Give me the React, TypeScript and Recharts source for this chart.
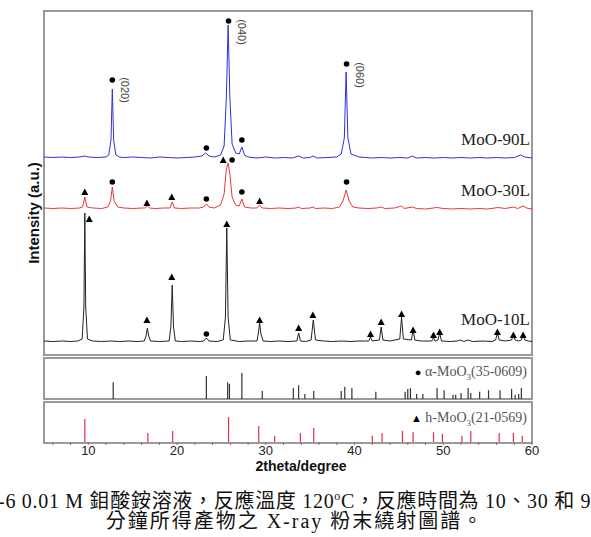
import React from "react";
import { ComposedChart, Line, Scatter, XAxis, YAxis } from "recharts";

// 2theta range and tick positions
const X_DOMAIN: [number, number] = [5, 60];
const AXIS_TICKS = [6, 8, 10, 12, 14, 16, 18, 20, 22, 24, 26, 28, 30, 32, 34, 36, 38, 40, 42, 44, 46, 48, 50, 52, 54, 56, 58, 60];

// traces: [2theta, intensity above own baseline]
const mo90L: [number, number][] = [
  [5, 1], [6, 0.5], [7, 1], [8, 0.5], [9, 1], [9.6, 2], [10, 1], [11, 0.5], [12, 1], [12.3, 3], [12.55, 18], [12.7, 69], [12.85, 18], [13.1, 3],
  [13.5, 1], [14, 0.5], [15, 1], [16, 0.5], [17, 0], [18, 1], [19, 0.5], [20, 0], [21, 0.5], [22, 1], [22.8, 2], [23.2, 5], [23.6, 2], [24.2, 1],
  [24.9, 3], [25.3, 12], [25.55, 60], [25.75, 133], [25.95, 60], [26.2, 14], [26.6, 5], [27.0, 4], [27.3, 11], [27.6, 3], [28, 1], [29, 0], [30, 1],
  [31, 0], [32, 0.5], [33, 0], [33.7, 2], [34.2, 0], [35, 0.5], [35.3, 2], [35.8, 0], [37, 0.5], [38, 1], [38.5, 4], [38.85, 20], [39.05, 86],
  [39.25, 20], [39.6, 4], [40.5, 1], [42, 0], [43, 0.5], [44, 0], [45, 0.5], [46, 0], [46.5, 2], [47, 0], [48, 0.5], [49, 0], [50, 0.5], [51, 0],
  [52, 0.5], [53, 0], [54, 0.5], [55, 0], [56, 0.5], [57, 0], [58, 0.5], [58.7, 3], [59.2, 1], [60, 0],
];

const mo30L: [number, number][] = [
  [5, 1], [6, 0.5], [7, 1], [8, 0.5], [9, 1], [9.35, 2], [9.6, 12], [9.85, 2], [10.5, 1], [11.5, 0.5], [12.2, 2], [12.5, 8], [12.7, 22], [12.9, 8],
  [13.3, 2], [14, 1], [15, 0.5], [16, 1], [16.4, 1], [16.65, 3], [16.9, 1], [17.5, 0.5], [18.5, 1], [19.2, 1], [19.45, 7], [19.7, 1], [20.5, 0.5],
  [21.5, 1], [22.5, 1], [23, 2], [23.3, 5], [23.6, 2], [24.2, 1], [24.9, 4], [25.3, 15], [25.55, 40], [25.75, 46], [25.95, 35], [26.2, 12],
  [26.6, 4], [27.0, 3], [27.3, 10], [27.6, 2], [28.3, 1], [29.0, 1], [29.3, 4], [29.6, 1], [30.5, 0.5], [31.5, 1], [32.5, 0.5], [33.4, 1],
  [33.7, 2], [34, 0.5], [35, 1], [35.3, 2], [35.6, 0.5], [36.5, 1], [37.5, 0.5], [38.3, 2], [38.7, 8], [39.05, 19], [39.4, 8], [39.8, 2],
  [40.5, 1], [41.5, 0.5], [42.5, 1], [43, 2], [43.4, 0.5], [44.5, 1], [45.3, 3], [45.6, 0.5], [46.5, 2], [47, 0.5], [48, 0], [49.3, 1.5],
  [50, 0.5], [51, 0], [52, 0.5], [53, 0], [54, 0.5], [55, 0], [56.2, 1.5], [57, 0.5], [57.9, 2], [58.4, 0.5], [59, 3], [59.4, 1], [60, 0],
];

const mo10L: [number, number][] = [
  [5, 1], [6, 0.5], [7, 1], [8, 0.5], [8.8, 1], [9.3, 3], [9.5, 35], [9.6, 129], [9.7, 35], [9.9, 3], [10.5, 1], [11.5, 0.5], [12.5, 1],
  [13.5, 0.5], [14.5, 1], [15.5, 0.5], [16.3, 1], [16.5, 6], [16.65, 14], [16.8, 6], [17, 1], [18, 0.5], [19.1, 1], [19.3, 15], [19.45, 57],
  [19.6, 15], [19.8, 1], [20.5, 0.5], [21.5, 1], [22.5, 0.5], [23, 1], [23.3, 4], [23.6, 1], [24.5, 0.5], [25.2, 2], [25.45, 25], [25.6, 114],
  [25.75, 25], [26, 2], [27, 0.5], [28, 1], [29, 1], [29.15, 8], [29.3, 19], [29.45, 8], [29.7, 1], [30.5, 0.5], [31.5, 1], [32.5, 0.5],
  [33.5, 1], [33.7, 9], [33.9, 1], [34.5, 0.5], [35.1, 2], [35.35, 22], [35.6, 2], [36.5, 1], [37.5, 0.5], [38.5, 1], [39.5, 0.5], [40.5, 1],
  [41.6, 1], [41.8, 5], [42, 1], [42.8, 2], [43, 15], [43.2, 2], [44, 1], [45.1, 3], [45.3, 25], [45.5, 3], [46.4, 2], [46.6, 12], [46.8, 2],
  [47.5, 1], [48.7, 1], [48.9, 4], [49.1, 1], [49.4, 2], [49.6, 9], [49.8, 1], [50.8, 0.5], [51.6, 1], [51.9, 2], [52.3, 0.5], [52.8, 2],
  [53.3, 0.5], [54.5, 1], [55.5, 0.5], [55.9, 2], [56.1, 9], [56.3, 2], [57, 1], [57.7, 2], [57.9, 7], [58.1, 2], [58.5, 1], [58.8, 2],
  [59, 7], [59.2, 2], [59.6, 1], [60, 0.5],
];

// vertical stacking of the three patterns
const BASE_90 = 196;
const BASE_30 = 145;
const BASE_10 = 12;

// phase markers: [2theta, height above baseline, phase] a = alpha (dot), h = hexagonal (triangle)
const marks90: [number, number, string][] = [[12.7, 78, "a"], [23.3, 10, "a"], [25.8, 137, "a"], [27.3, 18, "a"], [39.1, 94, "a"]];
const marks30: [number, number, string][] = [
  [9.6, 17, "h"], [12.7, 27, "a"], [16.6, 6, "h"], [19.4, 12, "h"], [23.3, 10, "a"], [25.2, 49, "h"], [26.2, 49, "a"],
  [27.3, 17, "a"], [29.3, 8, "h"], [39.1, 27, "a"],
];
const marks10: [number, number, string][] = [
  [10.1, 123, "h"], [16.6, 22, "h"], [19.4, 65, "h"], [23.3, 8, "a"], [25.6, 118, "h"], [29.3, 22, "h"], [33.7, 14, "h"],
  [35.3, 27, "h"], [41.8, 8, "h"], [43.0, 20, "h"], [45.3, 28, "h"], [46.6, 12, "h"], [48.9, 7, "h"], [49.6, 10, "h"],
  [56.1, 10, "h"], [57.9, 7, "h"], [59.0, 7, "h"],
];

// Miller indices on MoO-90L
const hklLabels: [number, number, string][] = [[12.7, 68, "(020)"], [25.8, 126, "(040)"], [39.1, 83, "(060)"]];

// reference cards: [2theta, relative intensity]
const alphaCard: [number, number][] = [
  [12.8, 40], [23.3, 55], [25.7, 40], [25.9, 36], [27.3, 62], [29.6, 19], [33.1, 26], [33.7, 33], [34.4, 12], [35.4, 19],
  [38.5, 19], [38.9, 29], [39.7, 26], [42.4, 17], [45.7, 17], [46.0, 24], [46.3, 26], [47.0, 12], [47.7, 12], [49.3, 26],
  [50.1, 21], [51.1, 10], [51.4, 10], [52.0, 14], [52.8, 26], [53.1, 14], [54.1, 17], [55.1, 21], [56.4, 21], [57.7, 24],
  [58.1, 10], [58.5, 12], [58.8, 26],
];
const hexCard: [number, number][] = [
  [9.6, 56], [16.7, 22], [19.5, 27], [25.8, 61], [29.2, 39], [31.0, 15], [33.9, 22], [35.4, 34], [42.0, 15], [43.1, 22],
  [45.4, 27], [46.6, 24], [48.9, 24], [49.9, 20], [52.1, 15], [53.1, 27], [56.3, 22], [57.9, 22], [58.9, 15],
];

const toXY = (pts: [number, number][], base: number) => pts.map(([x, v]) => ({ x, y: v + base }));
const toMarks = (pts: [number, number, string][], base: number) => pts.map(([x, v, k]) => ({ x, y: v + base, k }));

const MarkShape = (props: any) => {
  const { cx, cy, payload } = props;
  if (payload.k === "a") return <circle cx={cx} cy={cy} r={2.8} fill="#000" />;
  return <polygon points={`${cx - 3.5},${cy + 3} ${cx + 3.5},${cy + 3} ${cx},${cy - 3.5}`} fill="#000" />;
};

const HklShape = (props: any) => {
  const { cx, cy, payload } = props;
  return (
    <text x={cx + 9} y={cy} transform={`rotate(90 ${cx + 9} ${cy})`} textAnchor="middle" fontSize={11}
      fontFamily="Liberation Sans, Arial, sans-serif" fill="#444">
      {payload.k}
    </text>
  );
};

const stickShape = (baseY: number, color: string) => (props: any) => {
  const { cx, cy } = props;
  return <line x1={cx} x2={cx} y1={cy} y2={baseY} stroke={color} strokeWidth={1.2} />;
};

const frame = (top: number, height: number): React.CSSProperties => ({
  position: "absolute", left: 43, top, width: 490, height, border: "2px solid #9a9a9a", boxSizing: "border-box",
});

const serif = "'Liberation Serif', 'Times New Roman', 'Noto Sans CJK TC', serif";
const sans = "'Liberation Sans', Arial, sans-serif";

export default function App() {
  const plotMargin = { left: 44, right: 59, bottom: 0 };
  return (
    <div style={{ position: "absolute", left: 0, top: 0, width: 591, height: 537, overflow: "hidden", background: "#fff" }}>
      <div style={frame(10, 346)} />
      <div style={frame(357, 43)} />
      <div style={frame(401, 43)} />

      <div style={{ position: "absolute", left: 0, top: 0 }}>
        <ComposedChart width={591} height={354} margin={{ ...plotMargin, top: 11 }}>
          <XAxis type="number" dataKey="x" domain={X_DOMAIN} hide allowDataOverflow />
          <YAxis type="number" dataKey="y" domain={[0, 343]} hide allowDataOverflow />
          <Line data={toXY(mo90L, BASE_90)} dataKey="y" stroke="#2f2fe0" strokeWidth={1} dot={false} isAnimationActive={false} />
          <Line data={toXY(mo30L, BASE_30)} dataKey="y" stroke="#e53a3a" strokeWidth={1} dot={false} isAnimationActive={false} />
          <Line data={toXY(mo10L, BASE_10)} dataKey="y" stroke="#222" strokeWidth={1} dot={false} isAnimationActive={false} />
          <Scatter data={toMarks(marks90, BASE_90)} dataKey="y" shape={MarkShape} isAnimationActive={false} />
          <Scatter data={toMarks(marks30, BASE_30)} dataKey="y" shape={MarkShape} isAnimationActive={false} />
          <Scatter data={toMarks(marks10, BASE_10)} dataKey="y" shape={MarkShape} isAnimationActive={false} />
          <Scatter data={toMarks(hklLabels, BASE_90)} dataKey="y" shape={HklShape} isAnimationActive={false} />
        </ComposedChart>
      </div>

      <div style={{ position: "absolute", left: 0, top: 0 }}>
        <ComposedChart width={591} height={399} margin={{ ...plotMargin, top: 357 }}>
          <XAxis type="number" dataKey="x" domain={X_DOMAIN} hide allowDataOverflow />
          <YAxis type="number" dataKey="y" domain={[0, 100]} hide />
          <Scatter data={alphaCard.map(([x, y]) => ({ x, y }))} dataKey="y" shape={stickShape(399, "#333")} isAnimationActive={false} />
        </ComposedChart>
      </div>

      <div style={{ position: "absolute", left: 0, top: 0 }}>
        <ComposedChart width={591} height={472} margin={{ ...plotMargin, top: 401 }}>
          <XAxis type="number" dataKey="x" domain={X_DOMAIN} ticks={AXIS_TICKS} interval={0} height={30}
            axisLine={false} tickLine={{ stroke: "#777" }} tickSize={3} tickMargin={1}
            tickFormatter={(v: number) => (v % 10 === 0 ? String(v) : "")}
            tick={{ fill: "#222", fontSize: 13, fontFamily: sans }} allowDataOverflow />
          <YAxis type="number" dataKey="y" domain={[0, 100]} hide />
          <Scatter data={hexCard.map(([x, y]) => ({ x, y }))} dataKey="y" shape={stickShape(442, "#e0304a")} isAnimationActive={false} />
        </ComposedChart>
      </div>

      {[["MoO-90L", 140], ["MoO-30L", 191], ["MoO-10L", 320]].map(([t, y]) => (
        <div key={t as string} style={{ position: "absolute", right: 61, top: (y as number) - 11, fontFamily: serif, fontSize: 17, color: "#222", lineHeight: "22px" }}>
          {t}
        </div>
      ))}

      <div style={{ position: "absolute", right: 64, top: 363, fontFamily: serif, fontSize: 14, color: "#555", lineHeight: "18px", whiteSpace: "nowrap" }}>
        <span style={{ color: "#000", fontSize: 11 }}>●</span> α-MoO<sub style={{ fontSize: 9 }}>3</sub>(35-0609)
      </div>
      <div style={{ position: "absolute", right: 64, top: 409, fontFamily: serif, fontSize: 14, color: "#555", lineHeight: "18px", whiteSpace: "nowrap" }}>
        <span style={{ color: "#000", fontSize: 11 }}>▲</span> h-MoO<sub style={{ fontSize: 9 }}>3</sub>(21-0569)
      </div>

      <div style={{ position: "absolute", left: 33, top: 213, transform: "translate(-50%, -50%) rotate(-90deg)", fontFamily: sans,
        fontWeight: "bold", fontSize: 15, color: "#111", whiteSpace: "nowrap" }}>
        Intensity (a.u.)
      </div>
      <div style={{ position: "absolute", left: 301, top: 466, transform: "translate(-50%, -50%)", fontFamily: sans,
        fontWeight: "bold", fontSize: 14, color: "#111", whiteSpace: "nowrap", lineHeight: "15px" }}>
        2theta/degree
      </div>

      <div style={{ position: "absolute", right: -11, top: 484, fontFamily: serif, fontSize: 20, color: "#111", whiteSpace: "nowrap",
        lineHeight: "24px", letterSpacing: "0.7px" }}>
        圖4-6 0.01 M 鉬酸銨溶液，反應溫度 120<sup style={{ fontSize: 12 }}>o</sup>C，反應時間為 10、30 和 90
      </div>
      <div style={{ position: "absolute", left: 295, top: 509, transform: "translateX(-50%)", fontFamily: serif, fontSize: 20, color: "#111",
        whiteSpace: "nowrap", lineHeight: "24px", letterSpacing: "2px" }}>
        分鐘所得產物之 X-ray 粉末繞射圖譜。
      </div>
    </div>
  );
}
